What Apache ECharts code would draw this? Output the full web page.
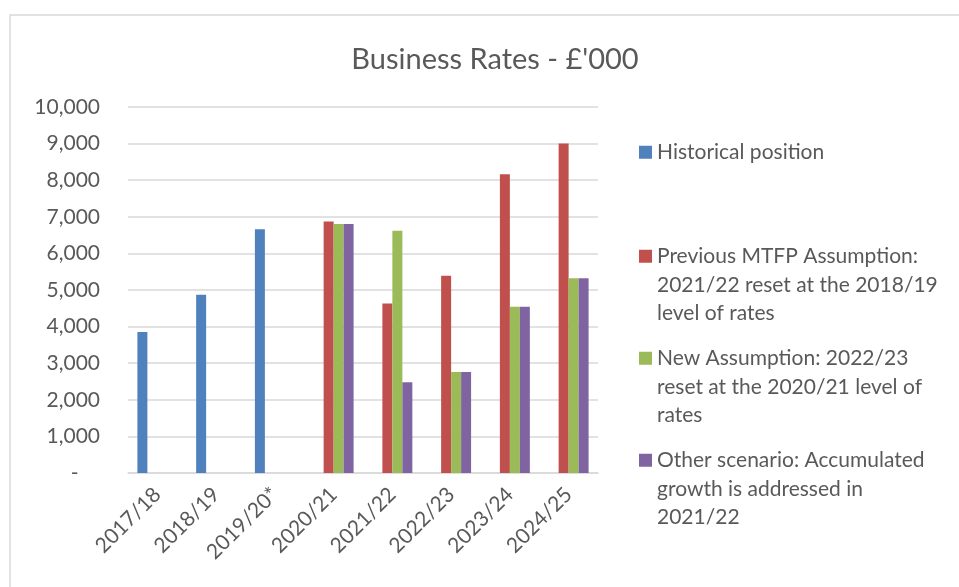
<!DOCTYPE html>
<html>
<head>
<meta charset="utf-8">
<script src="https://cdn.jsdelivr.net/npm/echarts@6/dist/echarts.min.js"></script>
<style>
  html, body { margin: 0; padding: 0; background: #fff; }
  #main { width: 959px; height: 587px; }
</style>
</head>
<body>
<div id="main"></div>
<script>
// data (£'000)
var years = ['2017/18', '2018/19', '2019/20*', '2020/21', '2021/22', '2022/23', '2023/24', '2024/25'];
var historical = [3850, 4870, 6660, null, null, null, null, null];
var previousMtfp = [null, null, null, 6870, 4630, 5390, 8160, 9000];
var newAssumption = [null, null, null, 6800, 6620, 2760, 4540, 5320];
var otherScenario = [null, null, null, 6800, 2480, 2760, 4540, 5320];

var names = [
    'Historical position',
    'Previous MTFP Assumption:\n2021/22 reset at the 2018/19\nlevel of rates',
    'New Assumption: 2022/23\nreset at the 2020/21 level of\nrates',
    'Other scenario: Accumulated\ngrowth is addressed in\n2021/22'
];
var colors = ['#4F81BD', '#C0504D', '#9BBB59', '#8064A2'];

var font = 'Lato';
var grey = '#595959';
var lineH = 28.5;

function legendFor(i, top) {
    return {
        left: 639,
        top: top,
        padding: 0,
        data: [names[i]],
        icon: 'rect',
        itemWidth: 13,
        itemHeight: 13,
        itemGap: 0,
        selectedMode: false,
        // blank lines in front keep the swatch level with the first line
        formatter: function (name) {
            var n = name.split('\n').length;
            return new Array(n).join('\n') + name;
        },
        textStyle: {
            fontFamily: font,
            fontSize: 21,
            color: grey,
            lineHeight: lineH
        }
    };
}

var myChart = echarts.init(document.getElementById('main'));
myChart.setOption({
    animation: false,
    color: colors,
    title: {
        text: "Business Rates - £'000",
        left: 490,
        textAlign: 'center',
        top: 40,
        textStyle: { fontFamily: font, fontSize: 29, fontWeight: 'normal', color: grey }
    },
    graphic: [{
        type: 'rect',
        shape: { x: 10, y: 15, width: 960, height: 600 },
        style: { fill: 'none', stroke: '#D9D9D9', lineWidth: 1.5 },
        silent: true
    }],
    legend: [
        legendFor(0, 138),
        legendFor(1, 185),
        legendFor(2, 287),
        legendFor(3, 389)
    ],
    grid: { left: 128, right: 361, top: 107, bottom: 114 },
    xAxis: {
        type: 'category',
        data: years,
        axisLine: { lineStyle: { color: '#D9D9D9', width: 1.5 } },
        axisTick: { show: false },
        axisLabel: {
            rotate: 45,
            interval: 0,
            margin: 18,
            fontFamily: font,
            fontSize: 21,
            color: grey
        }
    },
    yAxis: {
        type: 'value',
        min: 0,
        max: 10000,
        interval: 1000,
        axisLine: { show: false },
        axisTick: { show: false },
        splitLine: { lineStyle: { color: '#D9D9D9', width: 1.5 } },
        axisLabel: {
            margin: 28,
            fontFamily: font,
            fontSize: 21,
            color: grey,
            formatter: function (v) {
                if (v === 0) return '-    ';
                return v.toLocaleString('en-GB');
            }
        }
    },
    series: [
        { name: names[0], type: 'bar', data: historical, barGap: '0%', barCategoryGap: '32%' },
        { name: names[1], type: 'bar', data: previousMtfp },
        { name: names[2], type: 'bar', data: newAssumption },
        { name: names[3], type: 'bar', data: otherScenario }
    ]
});
</script>
</body>
</html>
